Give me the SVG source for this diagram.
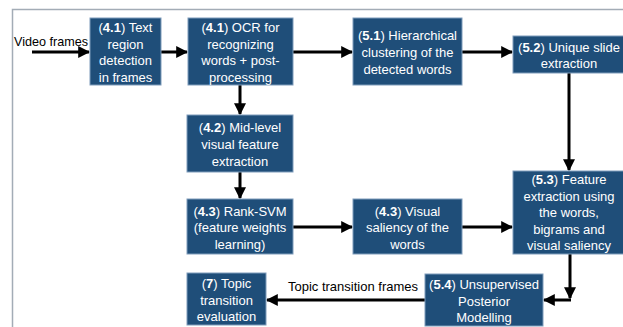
<svg xmlns="http://www.w3.org/2000/svg" width="623" height="327" viewBox="0 0 623 327">
<style>
.box{fill:#1f4e79;stroke:#7f9cbb;stroke-width:1}
.t{font-family:"Liberation Sans",Arial,sans-serif;font-size:13px;fill:#ffffff;text-anchor:middle}
.t tspan.b{font-weight:bold}
.lbl{font-family:"Liberation Sans",Arial,sans-serif;font-size:13px;fill:#000000}
.c{stroke:#000;stroke-width:3;fill:none}
</style>
<defs>
<marker id="ah" viewBox="0 0 10 10" refX="9" refY="5" markerWidth="4" markerHeight="4" orient="auto" markerUnits="strokeWidth">
<path d="M0,0 L10,5 L0,10 z" fill="#000"/>
</marker>
</defs>
<rect x="0" y="0" width="623" height="327" fill="#ffffff"/>
<path d="M12.5,327 V9.5 H623" fill="none" stroke="#a3acb6" stroke-width="1.5"/>

<g id="connectors">
<line class="c" x1="32" y1="52" x2="89" y2="52" marker-end="url(#ah)"/>
<line class="c" x1="161" y1="52" x2="187" y2="52" marker-end="url(#ah)"/>
<line class="c" x1="293" y1="52" x2="352" y2="52" marker-end="url(#ah)"/>
<line class="c" x1="462" y1="52" x2="512" y2="52" marker-end="url(#ah)"/>
<line class="c" x1="240" y1="85" x2="240" y2="114" marker-end="url(#ah)"/>
<line class="c" x1="569" y1="73" x2="569" y2="170" marker-end="url(#ah)"/>
<line class="c" x1="240" y1="172" x2="240" y2="198" marker-end="url(#ah)"/>
<line class="c" x1="293" y1="227" x2="352" y2="227" marker-end="url(#ah)"/>
<line class="c" x1="462" y1="227" x2="512" y2="227" marker-end="url(#ah)"/>
<line class="c" x1="570" y1="254" x2="570" y2="298" marker-end="url(#ah)"/>
<line class="c" x1="571" y1="300" x2="544" y2="300" marker-end="url(#ah)"/>
<line class="c" x1="425" y1="300" x2="267" y2="300" marker-end="url(#ah)"/>
<text class="lbl" x="14" y="46" textLength="74" lengthAdjust="spacingAndGlyphs">Video frames</text>
<text class="lbl" x="353" y="291" text-anchor="middle">Topic transition frames</text>
</g>

<g id="n41a">
<rect class="box" x="90" y="18" width="71" height="67"/>
<text class="t"><tspan x="125.5" y="32">(<tspan class="b">4.1</tspan>) Text</tspan><tspan x="125.5" y="48.5">region</tspan><tspan x="125.5" y="65">detection</tspan><tspan x="125.5" y="82">in frames</tspan></text>
</g>
<g id="n41b">
<rect class="box" x="188" y="18" width="105" height="67"/>
<text class="t"><tspan x="240.5" y="32">(<tspan class="b">4.1</tspan>) OCR for</tspan><tspan x="240.5" y="48.5">recognizing</tspan><tspan x="240.5" y="65">words + post-</tspan><tspan x="240.5" y="82">processing</tspan></text>
</g>
<g id="n51">
<rect class="box" x="353" y="18" width="109" height="67"/>
<text class="t"><tspan x="407.5" y="39.5">(<tspan class="b">5.1</tspan>) Hierarchical</tspan><tspan x="407.5" y="56.5">clustering of the</tspan><tspan x="407.5" y="73.5">detected words</tspan></text>
</g>
<g id="n52">
<rect class="box" x="513" y="36" width="112" height="37"/>
<text class="t"><tspan x="569" y="52">(<tspan class="b">5.2</tspan>) Unique slide</tspan><tspan x="569" y="68">extraction</tspan></text>
</g>
<g id="n42">
<rect class="box" x="187" y="115" width="106" height="57"/>
<text class="t"><tspan x="240" y="132">(<tspan class="b">4.2</tspan>) Mid-level</tspan><tspan x="240" y="149">visual feature</tspan><tspan x="240" y="165.5">extraction</tspan></text>
</g>
<g id="n43a">
<rect class="box" x="187" y="199" width="106" height="55"/>
<text class="t"><tspan x="240" y="215.5">(<tspan class="b">4.3</tspan>) Rank-SVM</tspan><tspan x="240" y="232">(feature weights</tspan><tspan x="240" y="249">learning)</tspan></text>
</g>
<g id="n43b">
<rect class="box" x="353" y="199" width="109" height="55"/>
<text class="t"><tspan x="407.5" y="215.5">(<tspan class="b">4.3</tspan>) Visual</tspan><tspan x="407.5" y="232">saliency of the</tspan><tspan x="407.5" y="249">words</tspan></text>
</g>
<g id="n53">
<rect class="box" x="513" y="171" width="112" height="83"/>
<text class="t"><tspan x="569" y="184">(<tspan class="b">5.3</tspan>) Feature</tspan><tspan x="569" y="200.5">extraction using</tspan><tspan x="569" y="217">the words,</tspan><tspan x="569" y="233.5">bigrams and</tspan><tspan x="569" y="250">visual saliency</tspan></text>
</g>
<g id="n7">
<rect class="box" x="187" y="273" width="79" height="52"/>
<text class="t"><tspan x="226.5" y="288">(<tspan class="b">7</tspan>) Topic</tspan><tspan x="226.5" y="304.5">transition</tspan><tspan x="226.5" y="321">evaluation</tspan></text>
</g>
<g id="n54">
<rect class="box" x="425" y="274" width="118" height="52"/>
<text class="t"><tspan x="484" y="289">(<tspan class="b">5.4</tspan>) Unsupervised</tspan><tspan x="484" y="305.5">Posterior</tspan><tspan x="484" y="322">Modelling</tspan></text>
</g>
</svg>
